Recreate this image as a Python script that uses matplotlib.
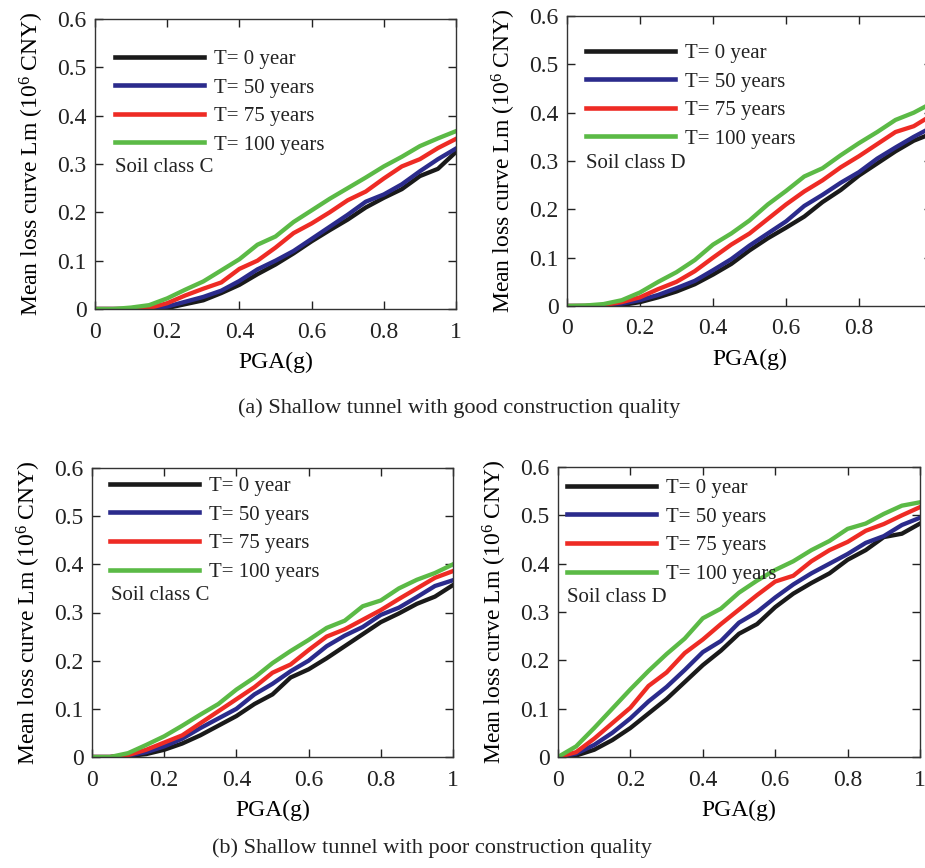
import matplotlib
matplotlib.use("Agg")
import matplotlib.pyplot as plt
import numpy as np

plt.rcParams['font.family'] = ['Liberation Serif', 'DejaVu Serif']
plt.rcParams['mathtext.fontset'] = 'custom'
plt.rcParams['mathtext.rm'] = 'Liberation Serif'
plt.rcParams['mathtext.it'] = 'Liberation Serif:italic'

pga = [0.0, 0.05, 0.1, 0.15, 0.2, 0.25, 0.3, 0.35, 0.4, 0.45, 0.5,
       0.55, 0.6, 0.65, 0.7, 0.75, 0.8, 0.85, 0.9, 0.95, 1.0]
series_labels = ["T= 0 year", "T= 50 years", "T= 75 years", "T= 100 years"]
series_colors = ["#1a1a1a", "#2b2b8c", "#ee2b24", "#5bba46"]

# (a) good quality, soil C
good_C_0   = [0,0,0,0,0.002,0.01,0.018,0.033,0.05,0.072,0.092,0.115,0.14,0.163,0.185,0.21,0.23,0.248,0.275,0.29,0.325]
good_C_50  = [0,0,0,0.001,0.005,0.015,0.025,0.038,0.058,0.082,0.1,0.12,0.145,0.17,0.195,0.222,0.237,0.258,0.285,0.31,0.332]
good_C_75  = [0,0,0,0.002,0.012,0.028,0.042,0.055,0.083,0.1,0.127,0.157,0.177,0.2,0.225,0.243,0.27,0.295,0.31,0.333,0.352]
good_C_100 = [0,0,0.003,0.008,0.022,0.04,0.057,0.08,0.103,0.133,0.15,0.18,0.204,0.228,0.25,0.272,0.295,0.315,0.337,0.353,0.368]

# (a) good quality, soil D
good_D_0   = [0,0,0,0.002,0.008,0.018,0.03,0.045,0.065,0.087,0.115,0.14,0.162,0.185,0.215,0.24,0.27,0.295,0.32,0.342,0.357]
good_D_50  = [0,0,0.001,0.005,0.012,0.023,0.037,0.052,0.074,0.097,0.125,0.15,0.175,0.207,0.23,0.255,0.277,0.305,0.328,0.35,0.37]
good_D_75  = [0,0,0.002,0.008,0.018,0.035,0.05,0.072,0.1,0.127,0.15,0.18,0.21,0.237,0.26,0.287,0.31,0.335,0.36,0.372,0.395]
good_D_100 = [0,0.001,0.004,0.012,0.028,0.05,0.07,0.095,0.127,0.15,0.177,0.21,0.238,0.268,0.285,0.312,0.337,0.36,0.385,0.4,0.42]

# (b) poor quality, soil C
poor_C_0   = [0,0,0.002,0.006,0.015,0.028,0.045,0.065,0.085,0.11,0.13,0.165,0.182,0.205,0.23,0.255,0.28,0.298,0.318,0.333,0.357]
poor_C_50  = [0,0,0.003,0.01,0.022,0.038,0.06,0.08,0.1,0.13,0.152,0.178,0.2,0.23,0.252,0.27,0.295,0.31,0.332,0.355,0.367]
poor_C_75  = [0,0,0.004,0.015,0.03,0.045,0.07,0.095,0.12,0.145,0.175,0.192,0.222,0.25,0.265,0.285,0.305,0.328,0.35,0.372,0.386]
poor_C_100 = [0,0,0.008,0.025,0.043,0.065,0.088,0.11,0.14,0.165,0.195,0.22,0.243,0.268,0.283,0.313,0.325,0.35,0.368,0.382,0.4]

# (b) poor quality, soil D
poor_D_0   = [0,0.003,0.015,0.035,0.06,0.09,0.12,0.155,0.19,0.22,0.255,0.275,0.31,0.338,0.36,0.38,0.408,0.428,0.455,0.462,0.483]
poor_D_50  = [0,0.007,0.025,0.05,0.08,0.115,0.145,0.18,0.217,0.24,0.278,0.3,0.33,0.357,0.38,0.4,0.42,0.443,0.457,0.48,0.495]
poor_D_75  = [0,0.01,0.038,0.07,0.102,0.147,0.175,0.215,0.243,0.275,0.305,0.335,0.363,0.375,0.405,0.428,0.445,0.468,0.482,0.5,0.517]
poor_D_100 = [0,0.022,0.06,0.1,0.14,0.178,0.213,0.245,0.287,0.307,0.34,0.365,0.387,0.405,0.428,0.447,0.472,0.483,0.503,0.52,0.527]

x_ticks = [0, 0.2, 0.4, 0.6, 0.8, 1.0]
x_tick_labels = ["0", "0.2", "0.4", "0.6", "0.8", "1"]
y_ticks = [0, 0.1, 0.2, 0.3, 0.4, 0.5, 0.6]
y_tick_labels = ["0", "0.1", "0.2", "0.3", "0.4", "0.5", "0.6"]

panels = [
    # box (left, top, right, bottom) px, data, soil text, legend (x, top) px, soil (x, y) px
    ((95, 19, 456, 309), [good_C_0, good_C_50, good_C_75, good_C_100], "Soil class C", (20, 39), (20, 149)),
    ((567, 16, 932, 306), [good_D_0, good_D_50, good_D_75, good_D_100], "Soil class D", (19, 36), (19, 147)),
    ((92, 468, 453, 757), [poor_C_0, poor_C_50, poor_C_75, poor_C_100], "Soil class C", (18, 17), (19, 128)),
    ((558, 467, 920, 757), [poor_D_0, poor_D_50, poor_D_75, poor_D_100], "Soil class D", (9, 20), (9, 130)),
]
captions = [("(a) Shallow tunnel with good construction quality", 459, 413),
            ("(b) Shallow tunnel with poor construction quality", 432, 853)]

W, H = 925, 868
fig = plt.figure(figsize=(W / 100, H / 100), dpi=100)

FS_TICK = 17
FS_LEG = 15
FS_LAB = 17
for (l, t, r, b), data, soil, (lx, ly), (sx, sy) in panels:
    w, h = r - l, b - t
    ax = fig.add_axes([l / W, (H - b) / H, w / W, h / H])
    for vals, lab, col in zip(data, series_labels, series_colors):
        ax.plot(pga, vals, color=col, lw=3.1, label=lab, solid_joinstyle='round')
    ax.set_xlim(0, 1)
    ax.set_ylim(0, 0.6)
    ax.set_xticks(x_ticks)
    ax.set_xticklabels(x_tick_labels)
    ax.set_yticks(y_ticks)
    ax.set_yticklabels(y_tick_labels)
    ax.tick_params(direction='in', top=True, right=True, length=6, width=1,
                   labelsize=FS_TICK, colors='#222222')
    ax.tick_params(axis='x', pad=9)
    ax.tick_params(axis='y', pad=6)
    for sp in ax.spines.values():
        sp.set_linewidth(1.0)
        sp.set_color('#333333')
    ax.set_xlabel("PGA(g)", fontsize=FS_LAB, labelpad=7)
    ax.set_ylabel(r"Mean loss curve Lm (10$^{6}$ CNY)", fontsize=FS_LAB, labelpad=8)
    fspx = FS_LEG * 100 / 72
    bpad = 0.4 * fspx
    anchor_x = (lx - bpad) / w
    anchor_y = 1 - (ly - 0.5 * fspx - bpad + 2) / h
    leg = ax.legend(loc='upper left', bbox_to_anchor=(anchor_x, anchor_y), frameon=False,
                    fontsize=FS_LEG, handlelength=4.25, handletextpad=0.48,
                    labelspacing=0.43, borderaxespad=0.0)
    for line in leg.get_lines():
        line.set_linewidth(3.3)
    for txt in leg.get_texts():
        txt.set_color('#222222')
    ax.text(sx / w, 1 - sy / h, soil, transform=ax.transAxes, fontsize=FS_LEG,
            ha='left', va='center', color='#222222')

for text, x, y in captions:
    fig.text(x / W, 1 - y / H, text, ha='center', va='baseline', fontsize=16,
             color='#222222')

fig.savefig("out.png", dpi=100)
